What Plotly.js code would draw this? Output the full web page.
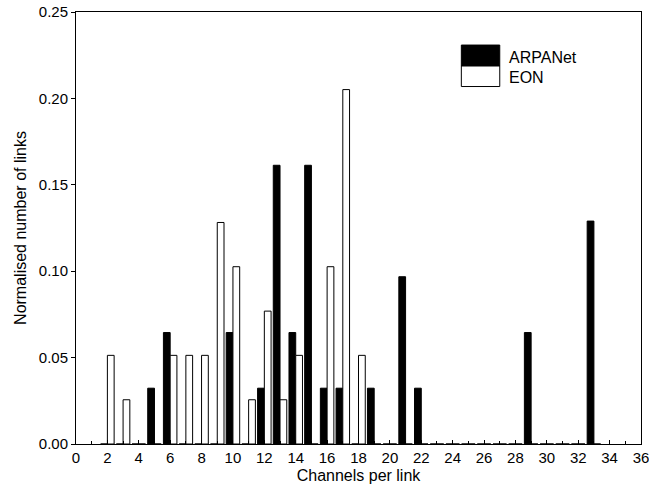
<!DOCTYPE html>
<html>
<head>
<meta charset="utf-8">
<script src="https://cdn.plot.ly/plotly-3.0.1.min.js"></script>
<style>html,body{margin:0;padding:0;background:#fff;}#chart{width:649px;height:491px;}</style>
</head>
<body>
<div id="chart"></div>
<script>
const channels = [2,3,4,5,6,7,8,9,10,11,12,13,14,15,16,17,18,19,20,21,22,23,24,25,26,27,28,29,30,31,32,33];
const arpanet = [0,0,0,0.0323,0.0645,0,0,0,0.0645,0,0.0323,0.1613,0.0645,0.1613,0.0323,0.0323,0,0.0323,0,0.0968,0.0323,0,0,0,0,0,0,0.0645,0,0,0,0.1290];
const eon     = [0.0513,0.0256,0,0,0.0513,0.0513,0.0513,0.1282,0.1026,0.0256,0.0769,0.0256,0.0513,0,0.1026,0.2051,0.0513,0,0,0,0,0,0,0,0,0,0,0,0,0,0,0];
const seriesNames = ['ARPANet','EON'];
const xTicks = [0,2,4,6,8,10,12,14,16,18,20,22,24,26,28,30,32,34,36];
const yTicks = [0,0.05,0.10,0.15,0.20,0.25];

const fam = 'Liberation Sans, Arial, sans-serif';
const tickFont = {family: fam, size: 15, color:'#000'};
const titleFont = {family: fam, size: 16, color:'#000'};

const traces = [
  {type:'bar', x: channels, y: arpanet, name: seriesNames[0],
   marker:{color:'#000', line:{color:'#000', width:1}}, showlegend:false},
  {type:'bar', x: channels, y: eon, name: seriesNames[1],
   marker:{color:'#fff', line:{color:'#000', width:1}}, showlegend:false}
];

const layout = {
  width: 649, height: 491,
  margin: {l:76, r:8, t:12, b:47},
  paper_bgcolor:'#fff', plot_bgcolor:'#fff',
  font: tickFont,
  barmode: 'group', bargap: 0.14, bargroupgap: 0,
  xaxis: {
    range: [0, 36], tickvals: xTicks, ticktext: xTicks.map(String),
    ticks: 'inside', ticklen: 4, tickcolor:'#000', tickwidth:1,
    minor: {dtick: 1, ticks:'inside', ticklen: 3, tickcolor:'#000'},
    showline: true, linecolor:'#000', linewidth:1, mirror: true,
    showgrid: false, zeroline: false,
    ticklabeloverflow: 'allow',
    tickfont: tickFont,
    title: {text: 'Channels per link', font: titleFont, standoff: 4}
  },
  yaxis: {
    range: [0, 0.25], tickvals: yTicks, ticktext: yTicks.map(v => v.toFixed(2)),
    ticks: 'outside', ticklen: 4, tickcolor:'#000', tickwidth:1,
    showline: true, linecolor:'#000', linewidth:1, mirror: true,
    showgrid: false, zeroline: false,
    tickfont: tickFont,
    title: {text: 'Normalised number of links', font: titleFont, standoff: 8}
  },
  shapes: [
    {type:'rect', xref:'paper', yref:'paper', x0:0.682, x1:0.750, y0:0.875, y1:0.9235, fillcolor:'#000', line:{color:'#000', width:1}},
    {type:'rect', xref:'paper', yref:'paper', x0:0.682, x1:0.750, y0:0.8275, y1:0.875, fillcolor:'#fff', line:{color:'#000', width:1}}
  ],
  annotations: [
    {xref:'paper', yref:'paper', x:0.762, y:0.895, text: seriesNames[0], showarrow:false, xanchor:'left', yanchor:'middle', font: titleFont},
    {xref:'paper', yref:'paper', x:0.762, y:0.848, text: seriesNames[1], showarrow:false, xanchor:'left', yanchor:'middle', font: titleFont}
  ]
};

Plotly.newPlot('chart', traces, layout, {displayModeBar:false, staticPlot:true});
</script>
</body>
</html>
